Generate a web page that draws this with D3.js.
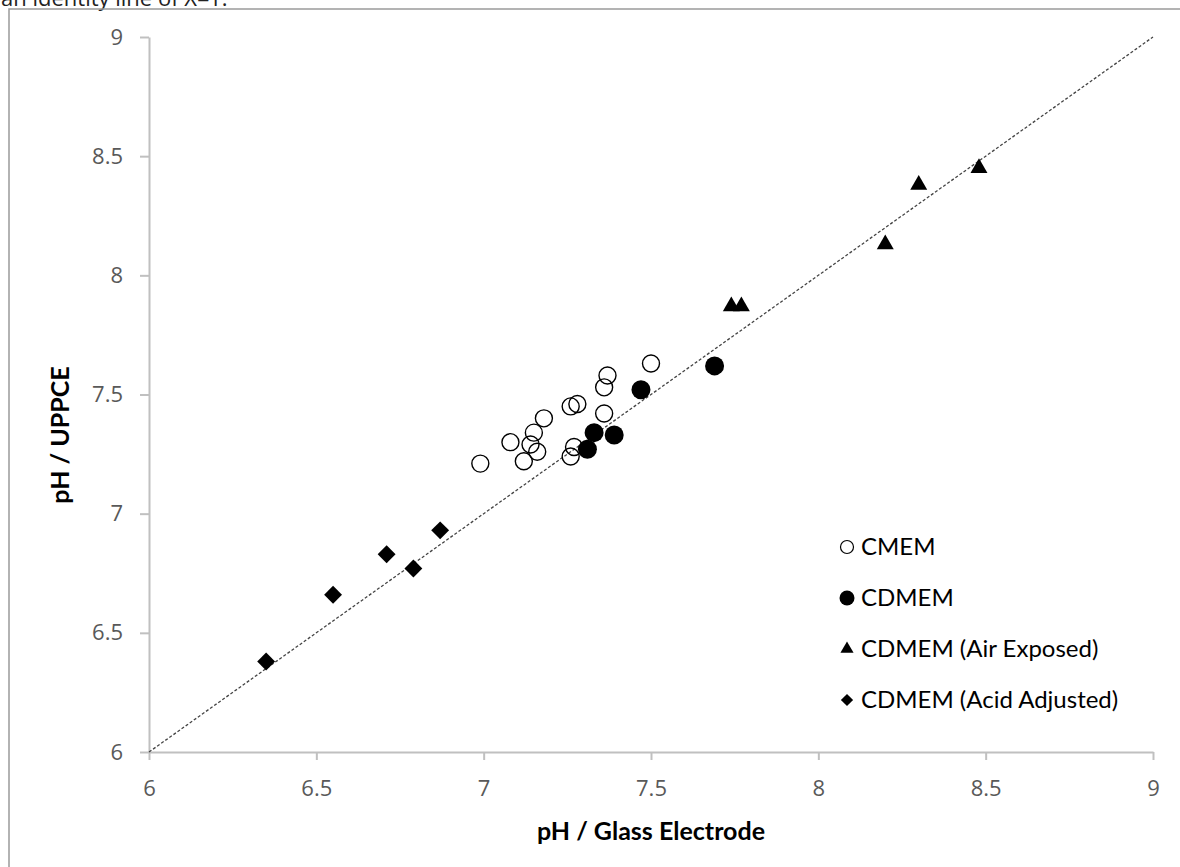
<!DOCTYPE html>
<html>
<head>
<meta charset="utf-8">
<script src="https://cdn.jsdelivr.net/npm/d3@7"></script>
<style>
  body { margin: 0; background: #fff; }
  svg { display: block; }
</style>
</head>
<body>
<svg id="canvas" width="1180" height="867"></svg>
<script>
// values
var cmemX = [6.99, 7.08, 7.12, 7.14, 7.15, 7.16, 7.18, 7.26, 7.28, 7.27, 7.26, 7.36, 7.36, 7.37, 7.50];
var cmemY = [7.21, 7.30, 7.22, 7.29, 7.34, 7.26, 7.40, 7.45, 7.46, 7.28, 7.24, 7.42, 7.53, 7.58, 7.63];
var cdmemX = [7.33, 7.31, 7.39, 7.47, 7.69];
var cdmemY = [7.34, 7.27, 7.33, 7.52, 7.62];
var airX = [7.74, 7.77, 8.20, 8.30, 8.48];
var airY = [7.87, 7.87, 8.13, 8.38, 8.45];
var acidX = [6.35, 6.55, 6.71, 6.79, 6.87];
var acidY = [6.38, 6.66, 6.83, 6.77, 6.93];
var ticks = [6, 6.5, 7, 7.5, 8, 8.5, 9];
var legendLabels = ["CMEM", "CDMEM", "CDMEM (Air Exposed)", "CDMEM (Acid Adjusted)"];

var svg = d3.select("#canvas");

var xScale = d3.scaleLinear().domain([6, 9]).range([149, 1153]);
var yScale = d3.scaleLinear().domain([6, 9]).range([752, 37]);

// caption fragment, cut off at the top as in the source
svg.append("text")
	.attr("x", 1).attr("y", 6)
	.attr("font-family", "Open Sans").attr("font-size", 22)
	.attr("fill", "#222")
	.text("an identity line of X=Y.");

// chart frame
svg.append("rect")
	.attr("x", 9).attr("y", 9)
	.attr("width", 1300).attr("height", 1000)
	.attr("fill", "none").attr("stroke", "#9a9a9a").attr("stroke-width", 1.5);

var xAxis = d3.axisBottom(xScale).tickValues(ticks).tickSize(8).tickSizeOuter(0).tickPadding(20).tickFormat(d3.format("~g"));
var yAxis = d3.axisLeft(yScale).tickValues(ticks).tickSize(9).tickSizeOuter(0).tickPadding(17).tickFormat(d3.format("~g"));

function styleAxis(g) {
	g.selectAll("path, line").attr("stroke", "#c0c0c0").attr("stroke-width", 2);
	g.selectAll("text").attr("fill", "#595959").attr("font-family", "Open Sans").attr("font-size", 22);
}

svg.append("g").attr("class", "x axis")
	.attr("transform", "translate(0,752)")
	.call(xAxis).call(styleAxis);

svg.append("g").attr("class", "y axis")
	.attr("transform", "translate(149,0)")
	.call(yAxis).call(styleAxis);

// identity line
svg.append("line")
	.attr("x1", xScale(6)).attr("y1", yScale(6))
	.attr("x2", xScale(9)).attr("y2", yScale(9))
	.attr("stroke", "#444").attr("stroke-width", 1.3)
	.attr("stroke-dasharray", "3,2");

// axis titles
svg.append("text")
	.attr("x", 651).attr("y", 840)
	.attr("text-anchor", "middle")
	.attr("font-family", "Lato").attr("font-weight", "bold").attr("font-size", 25)
	.attr("fill", "#000")
	.text("pH / Glass Electrode");

svg.append("text")
	.attr("transform", "translate(69,435) rotate(-90)")
	.attr("text-anchor", "middle")
	.attr("font-family", "Lato").attr("font-weight", "bold").attr("font-size", 25)
	.attr("fill", "#000")
	.text("pH / UPPCE");

var triSym = d3.symbol().type(d3.symbolTriangle).size(125);
var diaSym = d3.symbol().type(d3.symbolSquare).size(160);

function pts(xs, ys) { return xs.map(function (x, i) { return {x: x, y: ys[i]}; }); }

svg.selectAll("circle.cmem").data(pts(cmemX, cmemY)).enter()
	.append("circle").attr("class", "cmem")
	.attr("cx", function (d) { return xScale(d.x); })
	.attr("cy", function (d) { return yScale(d.y); })
	.attr("r", 8.5)
	.attr("fill", "none").attr("stroke", "#000").attr("stroke-width", 1.4);

svg.selectAll("circle.cdmem").data(pts(cdmemX, cdmemY)).enter()
	.append("circle").attr("class", "cdmem")
	.attr("cx", function (d) { return xScale(d.x); })
	.attr("cy", function (d) { return yScale(d.y); })
	.attr("r", 9.5)
	.attr("fill", "#000");

svg.selectAll("path.air").data(pts(airX, airY)).enter()
	.append("path").attr("class", "air")
	.attr("d", triSym)
	.attr("transform", function (d) { return "translate(" + xScale(d.x) + "," + yScale(d.y) + ")"; })
	.attr("fill", "#000");

svg.selectAll("path.acid").data(pts(acidX, acidY)).enter()
	.append("path").attr("class", "acid")
	.attr("d", diaSym)
	.attr("transform", function (d) { return "translate(" + xScale(d.x) + "," + yScale(d.y) + ") rotate(45)"; })
	.attr("fill", "#000");

// legend
var legend = svg.append("g").attr("transform", "translate(847,547)");
var rowGap = 51;

legend.append("circle").attr("cx", 0).attr("cy", 0).attr("r", 6.5)
	.attr("fill", "none").attr("stroke", "#000").attr("stroke-width", 1.2);
legend.append("circle").attr("cx", 0).attr("cy", rowGap).attr("r", 7.5)
	.attr("fill", "#000");
legend.append("path").attr("d", d3.symbol().type(d3.symbolTriangle).size(75))
	.attr("transform", "translate(0," + (rowGap * 2) + ")").attr("fill", "#000");
legend.append("path").attr("d", d3.symbol().type(d3.symbolSquare).size(75))
	.attr("transform", "translate(0," + (rowGap * 3) + ") rotate(45)").attr("fill", "#000");

legend.selectAll("text").data(legendLabels).enter()
	.append("text")
	.attr("x", 14)
	.attr("y", function (d, i) { return i * rowGap; })
	.attr("dy", "0.35em")
	.attr("font-family", "Lato").attr("font-size", 24)
	.attr("fill", "#000")
	.text(function (d) { return d; });
</script>
</body>
</html>
